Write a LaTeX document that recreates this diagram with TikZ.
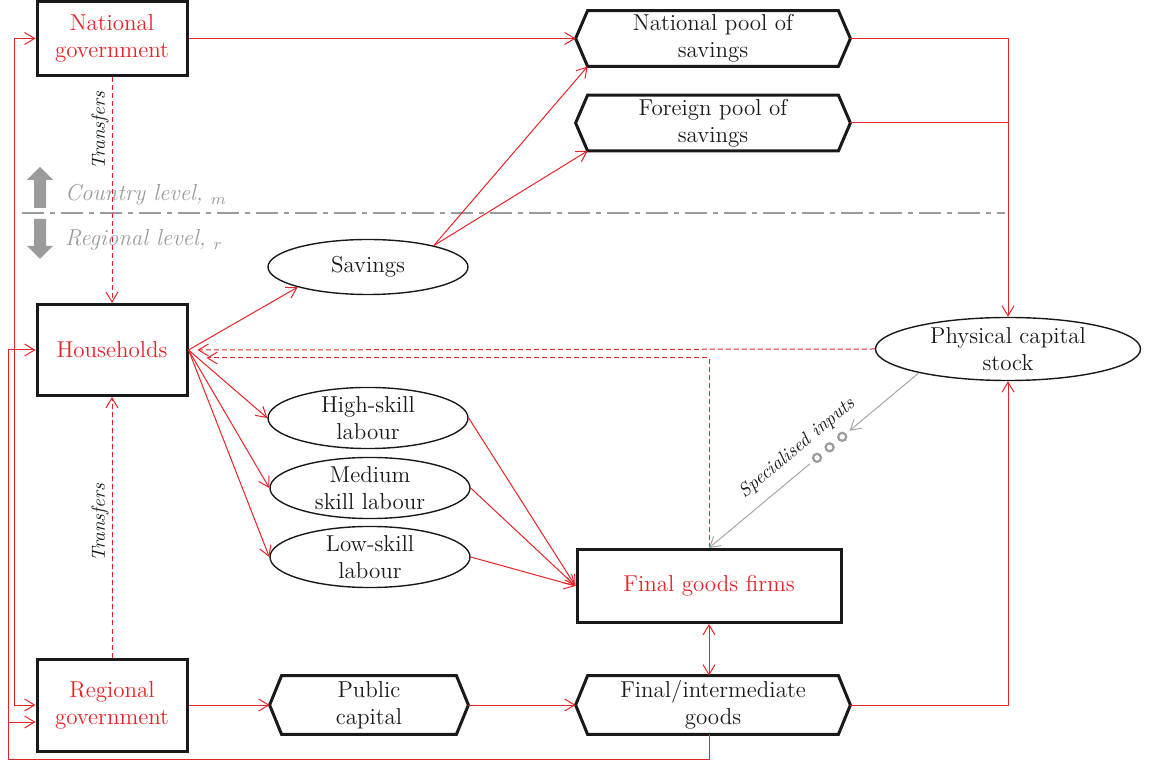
\documentclass[tikz,border=0pt]{standalone}
\usetikzlibrary{arrows.meta,shapes.geometric,calc}
\definecolor{myred}{RGB}{230,35,40}
\definecolor{dk}{RGB}{25,25,25}
\definecolor{gr}{RGB}{155,155,155}
\definecolor{grl}{RGB}{165,165,165}
\newcommand\hexoutline[1]{\draw[hexline] (#1.west) -- ([xshift=6pt]#1.north west) -- ([xshift=-6pt]#1.north east) -- (#1.east) -- ([xshift=-6pt]#1.south east) -- ([xshift=6pt]#1.south west) -- cycle;}
\begin{document}
\begin{tikzpicture}[x=0.5pt,y=-0.5pt,
  font=\fontsize{11.5}{13.5}\selectfont,
  >={Straight Barb[length=5pt,width=6pt]},
  box/.style={draw=dk,line width=1.5pt,minimum width=75pt,align=center,text=myred,inner sep=0pt},
  hexbox/.style={draw=none,minimum width=137pt,minimum height=27.5pt,align=center,text=dk,inner sep=0pt},
  hexline/.style={draw=dk,line width=1.5pt,line join=miter},
  ell/.style={ellipse,draw=dk,line width=0.7pt,minimum width=100pt,minimum height=27.5pt,align=center,text=dk,inner sep=0pt},
  rl/.style={draw=myred,line width=0.5pt},
  rd/.style={draw=myred,line width=0.5pt,dash pattern=on 2.5pt off 1.5pt},
  ga/.style={draw=grl,line width=0.5pt},
  lvl/.style={text=gr,font=\fontsize{11.5}{13.5}\selectfont\itshape,anchor=west},
  trf/.style={rotate=90,text=dk,font=\fontsize{9.5}{11}\selectfont\itshape}
]
\useasboundingbox (0,0) rectangle (1150,763);

% boxes
\node[box,minimum height=37pt] (ng) at (112,38.5) {National\\government};
\node[box,minimum height=45.5pt] (hh) at (112,350) {Households};
\node[box,minimum height=46pt] (rg) at (112,705) {Regional\\government};
\node[box,minimum width=132pt,minimum height=36.5pt] (firms) at (709,586) {Final goods firms};

% hexagons
\node[hexbox] (np) at (713,38.5) {National pool of\\savings};
\node[hexbox] (fp) at (713,123) {Foreign pool of\\savings};
\node[hexbox,minimum width=99pt,minimum height=29pt] (pc) at (369,705) {Public\\capital};
\node[hexbox,minimum height=29pt] (fig) at (713,705) {Final/intermediate\\goods};
\hexoutline{np}
\hexoutline{fp}
\hexoutline{pc}
\hexoutline{fig}

% ellipses
\node[ell] (sav) at (368,267) {Savings};
\node[ell] (hs) at (368,418) {High-skill\\labour};
\node[ell] (ms) at (370,488) {Medium\\skill labour};
\node[ell] (ls) at (370,557) {Low-skill\\labour};
\node[ell,minimum width=132.5pt,minimum height=31.5pt] (pcs) at (1008,349) {Physical capital\\stock};

% level separator
\draw[gr,line width=1.2pt,dash pattern=on 11pt off 3pt on 2.5pt off 3pt] (22,213) -- (1005,213);
\fill[gr] (34,208) -- (34,180) -- (27,180) -- (40,167) -- (53,180) -- (46,180) -- (46,208) -- cycle;
\fill[gr] (34,219) -- (34,246) -- (27,246) -- (40,259) -- (53,246) -- (46,246) -- (46,219) -- cycle;
\node[lvl] (cl) at (58,195) {Country level, $_m$};
\node[lvl] (rl) at (58,240) {Regional level, $_r$};

% transfers
\draw[rd,->] (ng.south) -- (hh.north);
\draw[rd,->] (rg.north) -- (hh.south);
\node[trf] (t1) at (100,131) {Transfers};
\node[trf] (t2) at (100,523) {Transfers};

% national gov
\draw[rl,->] (ng.east) -- (np.west);
\coordinate (L1) at (14,0);
\draw[rl,<->] (ng.west) -- (ng.west -| L1) -- ([yshift=0pt]rg.west -| L1) -- (rg.west);

% households
\draw[rl,->] (hh.east) -- (sav.196);
\draw[rl,->] (hh.east) -- (hs.west);
\draw[rl,->] (hh.east) -- (ms.west);
\draw[rl,->] (hh.east) -- (ls.west);

% savings to pools
\draw[rl,->] (sav.18) -- ([xshift=6pt]np.south west);
\draw[rl,->] (sav.18) -- ([xshift=6pt]fp.south west);

% labour to firms
\draw[rl,->] (hs.east) -- (firms.west);
\draw[rl,->] (ms.east) -- (firms.west);
\draw[rl,->] (ls.east) -- (firms.west);

% pools to physical capital
\draw[rl,->] (np.east) -| (pcs.north);
\draw[rl] (fp.east) -- (fp.east -| pcs.north);
\draw[rl,->] (fig.east) -| (pcs.south);

% dashed returns to households
\draw[rd,->] (pcs.west) -- ([xshift=4.5pt]hh.east);
\draw[rd,->] (firms.north) |- ([xshift=9pt,yshift=-4pt]hh.east);

% regional chain
\draw[rl,->] (rg.east) -- (pc.west);
\draw[rl,->] (pc.east) -- (fig.west);
\draw[rl,<->] (firms.south) -- (firms.south |- fig.north);

% bottom loop
\coordinate (L2) at (8,759);
\coordinate (rgin) at ([yshift=-8.5pt]rg.west);
\draw[rl,->] (firms.south |- fig.south) |- (L2) |- (hh.west);
\draw[rl,->] (L2 |- rgin) -- (rgin);

% specialised inputs
\coordinate (s0) at (pcs.195);
\draw[ga,->] (s0) -- ($(s0)!0.33!(firms.north)$);
\foreach \f in {0.365,0.425,0.485}
  \draw[gr,line width=1.1pt] ($(s0)!\f!(firms.north)$) circle[radius=2pt];
\draw[ga,->] ($(s0)!0.52!(firms.north)$) -- (firms.north);
\node[rotate=40,text=dk,font=\fontsize{9.5}{11}\selectfont\itshape,inner sep=1pt] (spec) at (797,448) {Specialised inputs};
\end{tikzpicture}
\end{document}
